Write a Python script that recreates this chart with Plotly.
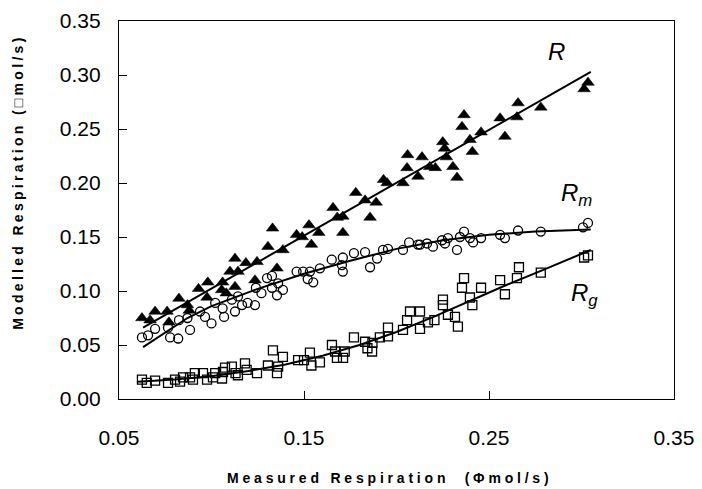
import plotly.graph_objects as go

# ---- data ----
R_x = [0.0624,0.0668,0.0695,0.076,0.077,0.0824,0.087,0.088,0.093,0.0976,0.098,0.106,0.1055,0.108,0.110,
       0.1127,0.1143,0.1127,0.1186,0.1235,0.1246,0.1305,0.133,0.1354,0.1386,0.146,0.149,0.1527,0.154,0.158,
       0.1657,0.168,0.171,0.171,0.178,0.183,0.1857,0.189,0.1949,0.193,0.2035,0.2057,0.206,0.2116,0.2138,
       0.218,0.221,0.225,0.226,0.227,0.2305,0.2327,0.2354,0.2365,0.2397,0.241,0.2457,0.256,0.2586,0.2651,
       0.2657,0.278,0.3014,0.3035]
R_y = [0.075,0.073,0.081,0.081,0.071,0.093,0.087,0.082,0.102,0.094,0.108,0.108,0.101,0.098,0.118,
       0.130,0.118,0.104,0.126,0.110,0.127,0.141,0.158,0.121,0.138,0.152,0.150,0.161,0.143,0.154,
       0.177,0.168,0.169,0.154,0.191,0.184,0.168,0.182,0.200,0.203,0.200,0.214,0.226,0.206,0.224,
       0.215,0.214,0.238,0.232,0.224,0.215,0.205,0.252,0.263,0.240,0.229,0.247,0.260,0.243,0.261,
       0.274,0.270,0.287,0.293]

Rm_x = [0.0624,0.0657,0.0695,0.0765,0.0776,0.082,0.0824,0.087,0.0884,0.0938,0.0965,0.100,0.102,0.106,0.1068,
        0.111,0.1127,0.1143,0.1165,0.1195,0.1235,0.124,0.127,0.130,0.1327,0.1327,0.1354,0.136,0.1386,0.146,
        0.1495,0.1532,0.152,0.155,0.1586,0.165,0.1705,0.171,0.171,0.177,0.183,0.1857,0.1895,0.1927,0.1954,
        0.2035,0.2068,0.2116,0.2127,0.2165,0.2197,0.2246,0.2262,0.2278,0.2327,0.2343,0.2365,0.2397,0.2414,
        0.2457,0.256,0.2586,0.2657,0.278,0.3008,0.3035]
Rm_y = [0.057,0.059,0.065,0.066,0.057,0.056,0.073,0.075,0.064,0.081,0.076,0.070,0.089,0.084,0.076,
        0.092,0.081,0.095,0.087,0.089,0.087,0.103,0.098,0.112,0.114,0.103,0.096,0.107,0.101,0.118,
        0.118,0.118,0.111,0.108,0.121,0.129,0.124,0.118,0.131,0.135,0.136,0.122,0.130,0.138,0.139,
        0.138,0.145,0.143,0.143,0.144,0.141,0.147,0.144,0.149,0.138,0.150,0.155,0.149,0.145,
        0.149,0.152,0.149,0.156,0.155,0.159,0.163]

Rg_x = [0.0624,0.065,0.0695,0.0765,0.0803,0.083,0.0846,0.0884,0.090,0.091,0.0954,0.0976,0.1008,0.102,0.1062,
        0.1057,0.1073,0.111,0.113,0.1143,0.1181,0.119,0.1246,0.1305,0.1332,0.1354,0.136,0.1386,0.1468,0.150,
        0.1532,0.154,0.1586,0.1651,0.1668,0.1678,0.1711,0.172,0.177,0.183,0.1843,0.1868,0.187,0.191,0.1954,
        0.1954,0.2035,0.2057,0.2073,0.2127,0.2127,0.217,0.2205,0.2251,0.2251,0.2278,0.2316,0.2332,0.2354,
        0.2365,0.2397,0.241,0.2457,0.256,0.2586,0.2651,0.2662,0.278,0.3014,0.3035]
Rg_y = [0.018,0.015,0.017,0.015,0.018,0.016,0.020,0.020,0.018,0.024,0.024,0.018,0.020,0.024,0.025,
        0.019,0.029,0.030,0.024,0.022,0.033,0.027,0.024,0.031,0.045,0.024,0.030,0.039,0.036,0.036,
        0.043,0.031,0.034,0.050,0.044,0.038,0.038,0.044,0.057,0.053,0.047,0.044,0.052,0.057,0.066,
        0.058,0.064,0.073,0.081,0.081,0.065,0.071,0.073,0.092,0.087,0.078,0.076,0.067,0.103,
        0.112,0.094,0.087,0.103,0.110,0.097,0.112,0.122,0.117,0.131,0.133]

R_fit_x = [0.063, 0.305]
R_fit_y = [0.066, 0.303]
Rm_fit_x = [0.063, 0.087, 0.10, 0.125, 0.15, 0.175, 0.20, 0.225, 0.25, 0.275, 0.305]
Rm_fit_y = [0.048, 0.075, 0.086, 0.102, 0.116, 0.128, 0.139, 0.147, 0.152, 0.155, 0.157]
Rg_fit_x = [0.060, 0.08, 0.10, 0.12, 0.14, 0.16, 0.18, 0.20, 0.22, 0.24, 0.26, 0.28, 0.305]
Rg_fit_y = [0.016, 0.018, 0.021, 0.026, 0.032, 0.040, 0.050, 0.062, 0.076, 0.091, 0.106, 0.120, 0.138]

x_ticks = [0.05, 0.15, 0.25, 0.35]
x_tick_labels = ["0.05", "0.15", "0.25", "0.35"]
y_ticks = [0.00, 0.05, 0.10, 0.15, 0.20, 0.25, 0.30, 0.35]
y_tick_labels = ["0.00", "0.05", "0.10", "0.15", "0.20", "0.25", "0.30", "0.35"]

FONT = "Liberation Sans, Arial, sans-serif"

fig = go.Figure()
for fx, fy in [(R_fit_x, R_fit_y), (Rm_fit_x, Rm_fit_y), (Rg_fit_x, Rg_fit_y)]:
    fig.add_trace(go.Scatter(x=fx, y=fy, mode="lines", line=dict(color="black", width=2),
                             showlegend=False, hoverinfo="skip"))

fig.add_trace(go.Scatter(x=R_x, y=R_y, mode="markers", name="R",
                         marker=dict(symbol="triangle-up", size=11, color="black",
                                     line=dict(color="black", width=0.5))))
fig.add_trace(go.Scatter(x=Rm_x, y=Rm_y, mode="markers", name="Rm",
                         marker=dict(symbol="circle-open", size=9, color="black",
                                     line=dict(color="black", width=1.3))))
fig.add_trace(go.Scatter(x=Rg_x, y=Rg_y, mode="markers", name="Rg",
                         marker=dict(symbol="square-open", size=9, color="black",
                                     line=dict(color="black", width=1.3))))

label_font = dict(family=FONT, size=24, color="black", style="italic")
fig.add_annotation(x=0.2865, y=0.322, text="R", showarrow=False, font=label_font)
fig.add_annotation(x=0.2975, y=0.189, text="R<sub>m</sub>", showarrow=False, font=label_font)
fig.add_annotation(x=0.3015, y=0.097, text="R<sub>g</sub>", showarrow=False, font=label_font)

title_font = dict(family=FONT, size=14, color="black", weight="bold")
# axis titles as annotations, placed where the reference has them
fig.add_annotation(xref="paper", yref="paper", x=-0.182, y=0.574, xanchor="center", yanchor="middle",
                   text="Modelled Respiration (□mol/s)", textangle=-90, showarrow=False, font=title_font)
fig.add_annotation(xref="paper", yref="paper", x=0.488, y=-0.209, xanchor="center", yanchor="middle",
                   text="Measured Respiration  (Φmol/s)", showarrow=False, font=title_font)

fig.update_layout(
    width=702, height=489,
    margin=dict(l=119, r=28, t=21, b=90),
    paper_bgcolor="white", plot_bgcolor="white",
    showlegend=False,
    font=dict(family=FONT, color="black"),
)
fig.update_xaxes(
    range=[0.05, 0.35], tickvals=x_ticks, ticktext=x_tick_labels,
    ticks="inside", ticklen=8, tickwidth=1, tickcolor="black",
    showline=True, linecolor="black", linewidth=1.2, mirror=True,
    showgrid=False, zeroline=False, automargin=False,
    tickfont=dict(family=FONT, size=21, color="black"), ticklabelstandoff=20,
)
fig.update_yaxes(
    range=[0, 0.35], tickvals=y_ticks, ticktext=y_tick_labels,
    ticks="inside", ticklen=8, tickwidth=1, tickcolor="black",
    showline=True, linecolor="black", linewidth=1.2, mirror=True,
    showgrid=False, zeroline=False, automargin=False,
    tickfont=dict(family=FONT, size=21, color="black"), ticklabelstandoff=13,
)

post = """
document.body.style.margin='0';
document.body.style.padding='0';
function ls(){
  document.querySelectorAll('.annotation-text').forEach(function(t){
    if (t.textContent.indexOf('Modelled') >= 0) { t.style.letterSpacing='3.3px'; }
    if (t.textContent.indexOf('Measured') >= 0) { t.style.letterSpacing='3.8px'; }
  });
}
ls();
var gd=document.getElementsByClassName('plotly-graph-div')[0];
gd.on('plotly_afterplot', ls);
"""
fig.write_html("out.html", post_script=post, config={"displayModeBar": False})
